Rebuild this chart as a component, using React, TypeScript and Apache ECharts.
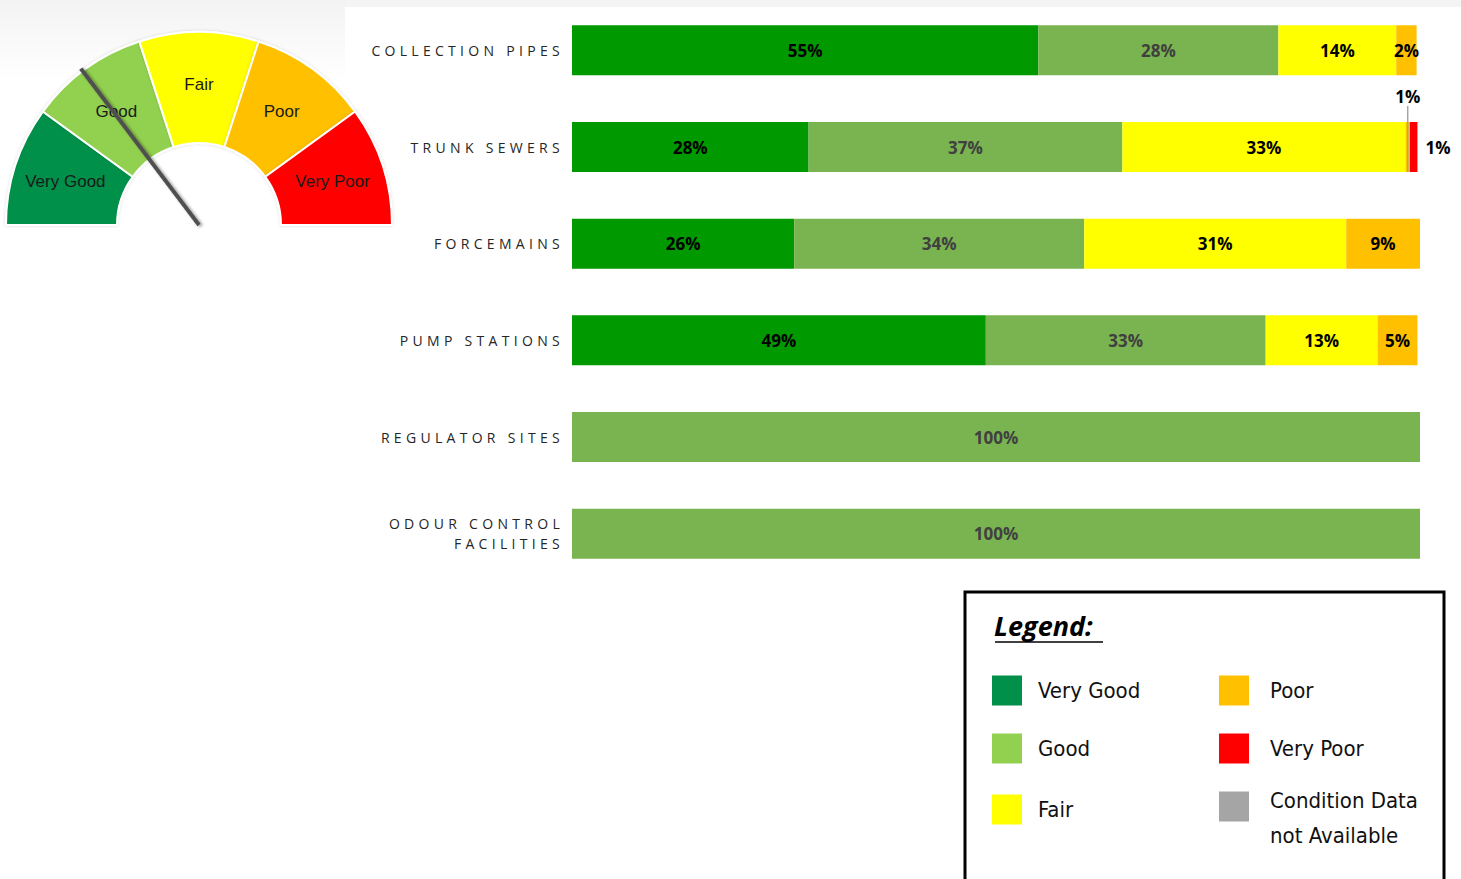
import React, { useEffect, useRef } from "react";
import * as echarts from "echarts";

// ---- Data ----
const categories = [
  "COLLECTION PIPES",
  "TRUNK SEWERS",
  "FORCEMAINS",
  "PUMP STATIONS",
  "REGULATOR SITES",
  "ODOUR CONTROL\nFACILITIES",
];
const conditionNames = ["Very Good", "Good", "Fair", "Poor", "Very Poor", "Condition Data not Available"];
const veryGood = [55, 27.9, 26.2, 48.8, 0, 0];
const good = [28.3, 37, 34.2, 33, 100, 100];
const fair = [13.9, 33.4, 30.9, 13.2, 0, 0];
const poor = [2.4, 0.5, 8.7, 4.7, 0, 0];
const veryPoor = [0, 0.9, 0, 0, 0, 0];
const notAvailable = [0, 0, 0, 0, 0, 0];

const barColors = ["#009900", "#7AB450", "#FFFF00", "#FFC000", "#FF0000", "#A5A5A5"];
const legendColors = ["#00904A", "#92D050", "#FFFF00", "#FFC000", "#FF0000", "#A5A5A5"];

const gaugeLabels = ["Very Good", "Good", "Fair", "Poor", "Very Poor"];
const gaugeColors = ["#00904A", "#92D050", "#FFFF00", "#FFC000", "#FF0000"];
const gaugeSegments = [1, 1, 1, 1, 1];
const needleValue = 29.4;

// legend item positions (left, top)
const legendPos: [number, number][] = [
  [992, 673],
  [992, 731],
  [992, 792],
  [1219, 673],
  [1219, 731],
  [1219, 760],
];

const pct = (v: number) => (v > 0 ? Math.max(1, Math.round(v)) + "%" : "");

export default function App() {
  const ref = useRef<HTMLDivElement>(null);

  useEffect(() => {
    if (!ref.current) return;
    const chart = echarts.init(ref.current, undefined, { renderer: "svg" });
    const seriesValues = [veryGood, good, fair, poor, veryPoor, notAvailable];

    const barSeries = conditionNames.map((name, i) => ({
      type: "bar",
      name,
      stack: "total",
      barWidth: 50,
      silent: true,
      z: 2,
      itemStyle: { color: barColors[i] },
      label: {
        show: true,
        position: "inside",
        formatter: (p: any) => pct(p.value),
        color: i === 1 ? "#404040" : "#000",
        fontWeight: "bold",
        fontSize: 17,
        fontFamily: "'Open Sans', sans-serif",
      },
      data: seriesValues[i].map((v, j) => {
        if (name === "Poor" && j === 1) {
          return {
            value: v,
            label: {
              position: "insideBottom",
              distance: 0,
              formatter: `{t|${pct(v)}}\n{l|}`,
              rich: {
                t: { fontWeight: "bold", fontSize: 17, color: "#000", lineHeight: 20, fontFamily: "'Open Sans', sans-serif" },
                l: { width: 1.5, height: 66, backgroundColor: "#a6a6a6" },
              },
            },
          };
        }
        if (name === "Very Poor" && j === 1) {
          return { value: v, label: { position: "right", distance: 8 } };
        }
        return v;
      }),
    }));

    const legends = conditionNames.map((n, i) => {
      const leftPad = i >= 3 ? 16 : 11;
      return {
        orient: "vertical",
        left: legendPos[i][0],
        top: legendPos[i][1],
        padding: 0,
        itemWidth: 30,
        itemHeight: 30,
        icon: "rect",
        selectedMode: false,
        textStyle: {
          fontSize: 22,
          color: "#111",
          fontFamily: "'DejaVu Sans Condensed', 'Liberation Sans Narrow', sans-serif",
          padding: [0, 0, 0, leftPad],
          lineHeight: 35,
          rich: { s: { height: 23, lineHeight: 23 } },
        },
        formatter: (s: string) =>
          s === "Condition Data not Available" ? "{s|}\nCondition Data\nnot Available" : s,
        data: [{ name: n, itemStyle: { color: legendColors[i] } }],
      };
    });

    chart.setOption({
      animation: false,
      backgroundColor: "#fff",
      graphic: [
        {
          type: "rect",
          z: -10,
          shape: { x: 0, y: 0, width: 1461, height: 7 },
          style: { fill: "#f4f4f4" },
        },
        {
          type: "rect",
          z: -10,
          shape: { x: 0, y: 0, width: 345, height: 80 },
          style: {
            fill: new echarts.graphic.LinearGradient(0, 0, 0, 1, [
              { offset: 0, color: "#f3f3f3" },
              { offset: 1, color: "#ffffff" },
            ]),
          },
        },
        {
          type: "rect",
          shape: { x: 965, y: 592, width: 479, height: 320 },
          style: { fill: "none", stroke: "#000", lineWidth: 3 },
        },
        {
          type: "text",
          x: 994,
          y: 612,
          style: {
            text: "Legend:",
            fontSize: 27,
            fontWeight: "bold",
            fontStyle: "italic",
            fontFamily: "'Open Sans', sans-serif",
            fill: "#000",
          },
        },
        {
          type: "line",
          shape: { x1: 995, y1: 642, x2: 1103, y2: 642 },
          style: { stroke: "#000", lineWidth: 1.5 },
        },
      ],
      legend: legends,
      grid: { left: 572, right: 41, top: 2, bottom: 297, containLabel: false },
      xAxis: { type: "value", min: 0, max: 100, show: false },
      yAxis: {
        type: "category",
        inverse: true,
        data: categories,
        axisLine: { show: false },
        axisTick: { show: false },
        axisLabel: {
          margin: 8,
          align: "right",
          fontSize: 14,
          lineHeight: 20,
          color: "#262626",
          fontFamily: "'Open Sans', sans-serif",
        },
      },
      series: [
        ...barSeries,
        {
          type: "pie",
          silent: true,
          z: 2,
          center: [199, 225],
          radius: [82, 193],
          startAngle: 180,
          clockwise: true,
          legendHoverLink: false,
          label: {
            show: true,
            position: "inside",
            fontSize: 17,
            color: "#1a1a1a",
            fontFamily: "'Liberation Sans', Arial, sans-serif",
            formatter: "{b}",
          },
          labelLine: { show: false },
          data: gaugeLabels
            .map((n, i) => ({
              name: n,
              value: gaugeSegments[i],
              itemStyle: {
                color: gaugeColors[i],
                borderColor: "#fff",
                borderWidth: 2,
                shadowBlur: 3,
                shadowColor: "rgba(0,0,0,0.15)",
              },
            }))
            .concat([
              {
                name: "",
                value: gaugeSegments.reduce((a, b) => a + b, 0),
                itemStyle: { color: "rgba(0,0,0,0)", borderColor: "rgba(0,0,0,0)", borderWidth: 0, shadowBlur: 0, shadowColor: "rgba(0,0,0,0)" },
                label: { show: false },
              } as any,
            ]),
        },
        {
          type: "gauge",
          silent: true,
          z: 10,
          center: [199, 225],
          radius: 196,
          startAngle: 180,
          endAngle: 0,
          min: 0,
          max: 100,
          axisLine: { show: false },
          splitLine: { show: false },
          axisTick: { show: false },
          axisLabel: { show: false },
          anchor: { show: false },
          title: { show: false },
          detail: { show: false },
          pointer: {
            icon: "rect",
            length: 196,
            width: 4,
            itemStyle: {
              color: "#505050",
              shadowBlur: 3,
              shadowColor: "rgba(0,0,0,0.4)",
              shadowOffsetX: 1,
              shadowOffsetY: 2,
            },
          },
          data: [{ value: needleValue }],
        },
      ],
    });

    const spaceLabels = () => {
      const texts = ref.current?.querySelectorAll("text");
      texts?.forEach((t) => {
        const s = (t.textContent || "").trim();
        if (/^[A-Z ]{4,}$/.test(s)) {
          t.setAttribute("letter-spacing", "4.3px");
        }
      });
    };
    spaceLabels();
    chart.on("finished", spaceLabels);
    const timer = setTimeout(spaceLabels, 50);

    return () => {
      clearTimeout(timer);
      chart.dispose();
    };
  }, []);

  return <div ref={ref} style={{ position: "fixed", left: 0, top: 0, width: 1461, height: 879 }} />;
}
